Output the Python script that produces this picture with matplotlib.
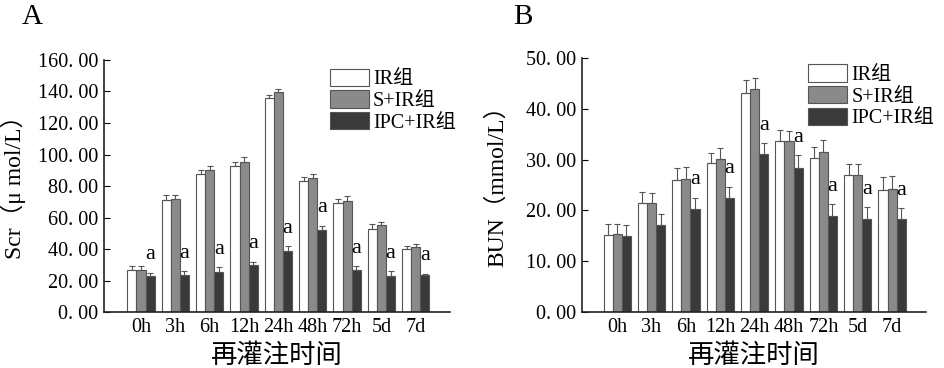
import numpy as np
import matplotlib.pyplot as plt
from matplotlib.ticker import FuncFormatter

plt.rcParams['font.family'] = ['Liberation Serif', 'Noto Sans CJK SC']

# 横轴与分组
times = ["0h", "3h", "6h", "12h", "24h", "48h", "72h", "5d", "7d"]
groups = ["IR组", "S+IR组", "IPC+IR组"]

# A: Scr (μmol/L)
scr_ir = [26.5, 71.0, 87.5, 92.6, 135.6, 83.5, 69.5, 52.5, 40.3]
scr_sir = [27.0, 72.0, 90.0, 95.3, 139.4, 85.4, 70.3, 55.0, 41.0]
scr_ipc = [23.0, 23.3, 25.4, 30.0, 38.8, 52.3, 27.0, 22.9, 23.3]
scr_ir_err = [2.5, 3.0, 2.5, 2.5, 2.0, 2.5, 2.5, 3.5, 1.5]
scr_sir_err = [2.0, 2.5, 2.5, 3.0, 2.5, 2.5, 3.5, 2.0, 2.0]
scr_ipc_err = [2.0, 2.5, 3.0, 2.0, 3.0, 2.5, 2.0, 3.0, 1.0]
scr_sig = [1, 1, 1, 1, 1, 1, 1, 1, 1]

# B: BUN (mmol/L)
bun_ir = [15.1, 21.4, 26.0, 29.3, 43.2, 33.6, 30.3, 27.0, 24.1]
bun_sir = [15.3, 21.4, 26.3, 30.1, 43.9, 33.6, 31.6, 27.0, 24.3]
bun_ipc = [15.0, 17.1, 20.2, 22.5, 31.2, 28.4, 18.9, 18.4, 18.3]
bun_ir_err = [2.3, 2.2, 2.4, 2.0, 2.5, 2.3, 2.3, 2.1, 2.5]
bun_sir_err = [2.1, 2.1, 2.3, 2.2, 2.1, 2.1, 2.2, 2.1, 2.4]
bun_ipc_err = [2.1, 2.2, 2.3, 2.2, 2.0, 2.5, 2.3, 2.2, 2.2]
bun_sig = [0, 0, 1, 1, 1, 1, 1, 1, 1]

colors = ["white", "#8a8a8a", "#3a3a3a"]
edge = "#555555"
w = 0.265

fig = plt.figure(figsize=(9.45, 3.68), dpi=100)
axA = fig.add_axes([0.110, 0.152, 0.366, 0.685])
axB = fig.add_axes([0.616, 0.152, 0.364, 0.690])


def panel(ax, series, errs, sig, ymax, ylabel, xlim, lab_x):
    x = np.arange(len(times))
    handles = []
    for i, (vals, err) in enumerate(zip(series, errs)):
        pos = x + (i - 1) * w
        b = ax.bar(pos, vals, w, color=colors[i], edgecolor=edge, linewidth=0.8,
                   label=groups[i], zorder=2)
        handles.append(b)
        ax.errorbar(pos, vals, yerr=[np.zeros(len(vals)), err], fmt='none',
                    ecolor="#555555", elinewidth=0.8, capsize=2.5, capthick=0.8,
                    zorder=3)
    ipc = np.array(series[2])
    top = ipc + np.array(errs[2])
    for xi, yi, s in zip(x + w, top, sig):
        if s:
            ax.annotate("a", (xi, yi), xytext=(0, 6), textcoords="offset points",
                        ha="center", va="bottom", fontsize=16)
    ax.set_ylim(0, ymax)
    ax.set_xlim(*xlim)
    ax.set_xticks(x)
    ax.set_xticklabels(times, fontsize=14.5)
    ax.tick_params(axis='x', length=0, pad=4)
    ax.tick_params(axis='y', direction='in', length=4, width=0.8, labelsize=14.5, pad=4)
    ax.yaxis.set_major_formatter(FuncFormatter(lambda v, p: "{:.2f}".format(v).replace(".", ". ")))
    for s in ["top", "right"]:
        ax.spines[s].set_visible(False)
    for s in ["left", "bottom"]:
        ax.spines[s].set_linewidth(1.2)
        ax.spines[s].set_color("#222222")
    ax.set_ylabel(ylabel, fontsize=17)
    ax.yaxis.set_label_coords(lab_x, 0.52)
    ax.set_xlabel("再灌注时间", fontsize=19, labelpad=5, fontweight="medium")
    return handles


hA = panel(axA, [scr_ir, scr_sir, scr_ipc], [scr_ir_err, scr_sir_err, scr_ipc_err],
           scr_sig, 160, "Scr（μ mol/L）", (-1.08, 8.99), -0.225)
axA.set_yticks(np.arange(0, 161, 20))
hB = panel(axB, [bun_ir, bun_sir, bun_ipc], [bun_ir_err, bun_sir_err, bun_ipc_err],
           bun_sig, 50, "BUN（mmol/L）", (-1.02, 8.99), -0.215)
axB.set_yticks(np.arange(0, 51, 10))

for ax, h, anchor in [(axA, hA, (0.653, 0.965)), (axB, hB, (0.657, 0.975))]:
    ax.legend(h, groups, loc="upper left", bbox_to_anchor=anchor, frameon=False,
              fontsize=14.5, handlelength=1.95, handleheight=0.95, labelspacing=0.05,
              handletextpad=0.2, borderpad=0, borderaxespad=0)

fig.text(0.023, 0.935, "A", fontsize=21)
fig.text(0.543, 0.935, "B", fontsize=21)

fig.savefig("out.png", dpi=100)
